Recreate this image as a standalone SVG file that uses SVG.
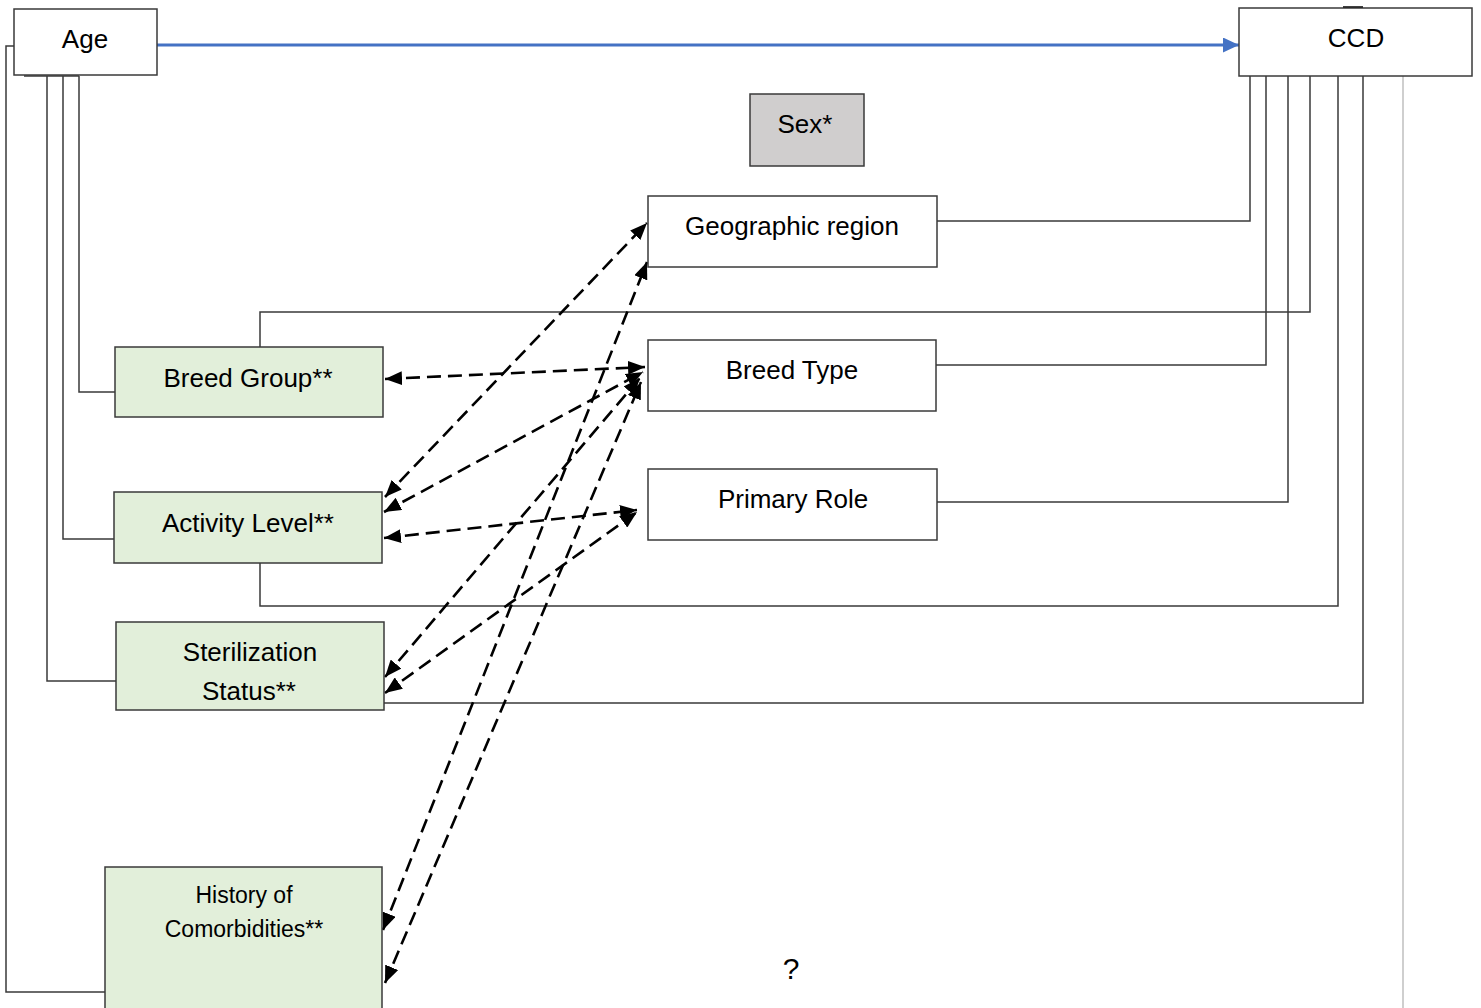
<svg xmlns="http://www.w3.org/2000/svg" width="1481" height="1008" viewBox="0 0 1481 1008">
<style>
.box{stroke:#3a3a3a;stroke-width:1.5;fill:#fff}
.green{fill:#e2efda}
.gray{fill:#d0cece}
.t{font-family:"Liberation Sans",Arial,sans-serif;font-size:26px;fill:#000;text-anchor:middle}
.ts{font-size:23px}
.ln{fill:none;stroke:#3a3a3a;stroke-width:1.5}
.dash{fill:none;stroke:#000;stroke-width:2.6;stroke-dasharray:14 7;marker-start:url(#ah);marker-end:url(#ah)}
</style>
<defs>
<marker id="ah" markerUnits="userSpaceOnUse" markerWidth="18" markerHeight="14" refX="17" refY="7" orient="auto-start-reverse">
<path d="M0,0 L17,7 L0,14 z" fill="#000"/>
</marker>
<marker id="bh" markerUnits="userSpaceOnUse" markerWidth="17" markerHeight="15" refX="16" refY="7.5" orient="auto">
<path d="M0,0 L16,7.5 L0,15 z" fill="#4472c4"/>
</marker>
</defs>
<rect width="1481" height="1008" fill="#fff"/>
<g id="connectors">
<line x1="157" y1="45" x2="1239" y2="45" stroke="#4472c4" stroke-width="3" marker-end="url(#bh)"/>
<polyline class="ln" points="14,46 6,46 6,992 105,992"/>
<line class="ln" x1="24" y1="76" x2="79" y2="76"/>
<polyline class="ln" points="47,76 47,681 116,681"/>
<polyline class="ln" points="63,76 63,539 114,539"/>
<polyline class="ln" points="79,76 79,392 115,392"/>
<polyline class="ln" points="1250,76 1250,221 937,221"/>
<polyline class="ln" points="1310,76 1310,312 260,312 260,347"/>
<polyline class="ln" points="1266,76 1266,365 936,365"/>
<polyline class="ln" points="1288,76 1288,502 937,502"/>
<polyline class="ln" points="1338,76 1338,606 260,606 260,563"/>
<polyline class="ln" points="1363,76 1363,703 384,703"/>
<line x1="1403" y1="76" x2="1403" y2="1008" stroke="#bfbfbf" stroke-width="1.5"/>
<line x1="1343" y1="7.5" x2="1363" y2="7.5" stroke="#000" stroke-width="2.5"/>
<line class="dash" x1="385" y1="379" x2="645" y2="367"/>
<line class="dash" x1="385" y1="497" x2="647" y2="223"/>
<line class="dash" x1="384" y1="512" x2="643" y2="372"/>
<line class="dash" x1="384" y1="538" x2="637" y2="510"/>
<line class="dash" x1="385" y1="677" x2="640" y2="378"/>
<line class="dash" x1="385" y1="693" x2="637" y2="512"/>
<line class="dash" x1="383" y1="930" x2="647" y2="262"/>
<line class="dash" x1="385" y1="983" x2="641" y2="382"/>
</g>
<g id="age"><rect class="box" x="14" y="9" width="143" height="66"/><text class="t" x="85" y="48">Age</text></g>
<g id="ccd"><rect class="box" x="1239" y="8" width="233" height="68"/><text class="t" x="1356" y="47">CCD</text></g>
<g id="sex"><rect class="box gray" x="750" y="94" width="114" height="72"/><text class="t" x="805" y="133">Sex*</text></g>
<g id="geo"><rect class="box" x="648" y="196" width="289" height="71"/><text class="t" x="792" y="235">Geographic region</text></g>
<g id="breedtype"><rect class="box" x="648" y="340" width="288" height="71"/><text class="t" x="792" y="379">Breed Type</text></g>
<g id="role"><rect class="box" x="648" y="469" width="289" height="71"/><text class="t" x="793" y="508">Primary Role</text></g>
<g id="breedgroup"><rect class="box green" x="115" y="347" width="268" height="70"/><text class="t" x="248" y="387">Breed Group**</text></g>
<g id="activity"><rect class="box green" x="114" y="492" width="268" height="71"/><text class="t" x="248" y="532">Activity Level**</text></g>
<g id="steril"><rect class="box green" x="116" y="622" width="268" height="88"/><text class="t" x="250" y="661">Sterilization</text><text class="t" x="249" y="700">Status**</text></g>
<g id="history"><rect class="box green" x="105" y="867" width="277" height="150"/><text class="t ts" x="244" y="903">History of</text><text class="t ts" x="244" y="937">Comorbidities**</text></g>
<g id="question"><text class="t" x="791" y="979" style="font-size:30px">?</text></g>
</svg>
